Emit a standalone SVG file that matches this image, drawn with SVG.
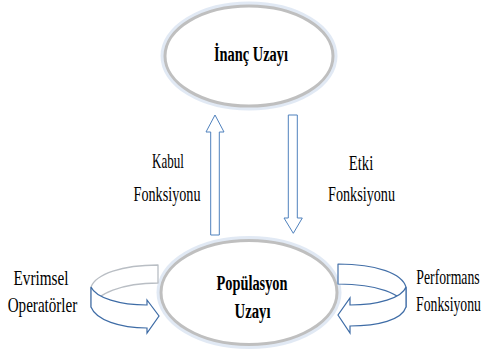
<svg xmlns="http://www.w3.org/2000/svg" width="485" height="354" viewBox="0 0 485 354">
  <style>
    .glow { fill: none; stroke: #d9e4f1; stroke-width: 7; opacity: 0.8; }
    .node { fill: #ffffff; stroke: #bfbfbf; stroke-width: 3; }
    .ntext { font-family: "Liberation Serif", "Times New Roman", "DejaVu Serif", serif; font-weight: bold; font-size: 22px; fill: #000000; text-anchor: middle; }
    .label { font-family: "Liberation Serif", "Times New Roman", "DejaVu Serif", serif; font-size: 21px; fill: #000000; text-anchor: middle; }
    .block { fill: #ffffff; stroke: #4f81bd; stroke-width: 1; stroke-linejoin: miter; }
    .backgray { fill: #ffffff; stroke: #b9bec4; stroke-width: 1.3; stroke-linejoin: round; }
    .frontblue { fill: #ffffff; stroke: #3e6ca6; stroke-width: 1.2; stroke-linejoin: miter; }
    .backblue { fill: #ffffff; stroke: #4470a8; stroke-width: 1.2; stroke-linejoin: round; }
  </style>
  <rect x="0" y="0" width="485" height="354" fill="#ffffff"/>

  <g id="inanc-uzayi">
    <ellipse class="glow" cx="249" cy="56" rx="85" ry="51"/>
    <ellipse class="node" cx="249" cy="56" rx="84" ry="50"/>
    <text class="ntext" transform="translate(251,61) scale(0.655,1)" x="0" y="0">İnanç Uzayı</text>
  </g>

  <g id="populasyon-uzayi">
    <ellipse class="glow" cx="249" cy="292.5" rx="89" ry="53"/>
    <ellipse class="node" cx="249" cy="292.5" rx="88" ry="52"/>
    <text class="ntext" transform="translate(252,290) scale(0.653,1)" x="0" y="0">Popülasyon</text>
    <text class="ntext" transform="translate(252.5,318) scale(0.67,1)" x="0" y="0">Uzayı</text>
  </g>

  <g id="connectors">
    <!-- Kabul Fonksiyonu: up arrow -->
    <path id="kabul-arrow" class="block" d="M215,115 L224,132 L219.3,132 L219.3,235 L210.7,235 L210.7,132 L206,132 Z"/>
    <!-- Etki Fonksiyonu: down arrow -->
    <path id="etki-arrow" class="block" d="M288.3,115 L297.3,115 L297.3,218 L302.3,218 L293.3,233.3 L284,218 L288.3,218 Z"/>

    <!-- Evrimsel Operatorler: circular arrow on the left -->
    <g id="evrimsel-arrow">
      <path class="backgray" d="M158,265 C122,265 96,274 91,287 L91,307 C96,294 122,283 158,283 Z"/>
      <path class="frontblue" d="M91,287 C96,298 120,305 147,305 L147,300 L159,316 L147,333 L147,328 C120,328 96,320 91,307 Z"/>
    </g>

    <!-- Performans Fonksiyonu: circular arrow on the right -->
    <g id="performans-arrow">
      <path class="backblue" d="M338,264 C378,264 402,274 406,287 L406,307 C402,294 378,284 338,284 Z"/>
      <path class="frontblue" d="M406,287 C402,298 378,305 350,305 L350,298 L338,315 L350,333 L350,326 C378,326 402,320 406,307 Z"/>
    </g>
  </g>

  <g id="labels">
    <text class="label" transform="translate(168,168) scale(0.62,1)" x="0" y="0">Kabul</text>
    <text class="label" transform="translate(167,201) scale(0.675,1)" x="0" y="0">Fonksiyonu</text>
    <text class="label" transform="translate(361,170) scale(0.7,1)" x="0" y="0">Etki</text>
    <text class="label" transform="translate(361.5,201) scale(0.675,1)" x="0" y="0">Fonksiyonu</text>
    <text class="label" transform="translate(41,285) scale(0.725,1)" x="0" y="0">Evrimsel</text>
    <text class="label" transform="translate(42.5,312) scale(0.72,1)" x="0" y="0">Operatörler</text>
    <text class="label" transform="translate(448,284) scale(0.655,1)" x="0" y="0">Performans</text>
    <text class="label" transform="translate(448.5,311) scale(0.655,1)" x="0" y="0">Fonksiyonu</text>
  </g>
</svg>
